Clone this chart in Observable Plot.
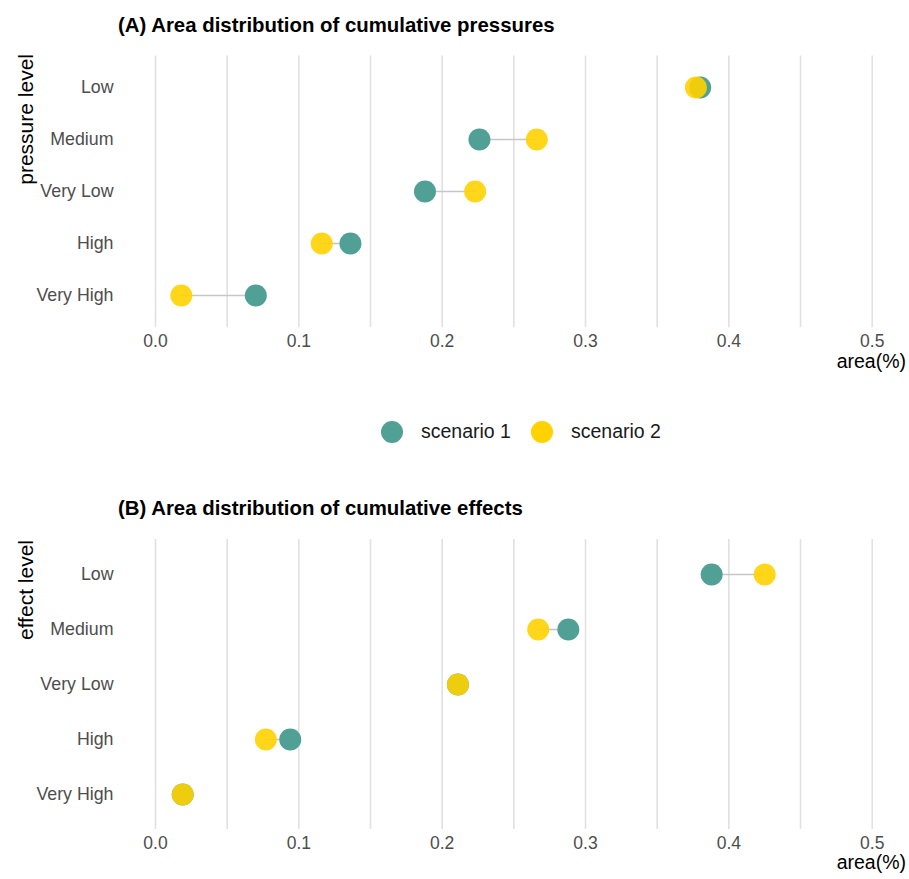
<!DOCTYPE html>
<html>
<head>
<meta charset="utf-8">
<script src="https://cdn.jsdelivr.net/npm/d3@7"></script>
<script src="https://cdn.jsdelivr.net/npm/@observablehq/plot@0.6"></script>
<style>
  html, body { margin: 0; padding: 0; background: #fff; }
  body { width: 909px; height: 879px; position: relative; overflow: hidden;
         font-family: "Liberation Sans", Arial, Helvetica, sans-serif; }
  .abs { position: absolute; white-space: nowrap; line-height: 1; }
  .title { font-size: 20.4px; font-weight: bold; color: #000; }
  .ytitle { font-size: 21px; color: #000; transform-origin: 0 0; transform: rotate(-90deg) translate(-100%, -50%); }
  .xtitle { font-size: 19.5px; color: #000; }
  .legend-item { position: absolute; display: flex; align-items: center; font-size: 19.5px; color: #1a1a1a; line-height: 1; }
  .legend-dot { width: 22px; height: 22px; border-radius: 50%; margin-right: 18px; }
  .plot { position: absolute; left: 0; }
</style>
</head>
<body>
<script>
// ---- data ----
const levels = ["Low", "Medium", "Very Low", "High", "Very High"];
const pressureScenario1 = [0.380, 0.226, 0.188, 0.136, 0.070];
const pressureScenario2 = [0.377, 0.266, 0.223, 0.116, 0.018];
const effectScenario1 = [0.388, 0.288, 0.211, 0.094, 0.019];
const effectScenario2 = [0.425, 0.267, 0.211, 0.077, 0.019];
const seriesNames = ["scenario 1", "scenario 2"];
const xTicks = [0.0, 0.1, 0.2, 0.3, 0.4, 0.5];
const gridTicks = [0.0, 0.05, 0.1, 0.15, 0.2, 0.25, 0.3, 0.35, 0.4, 0.45, 0.5];

const teal = "#50a096";
const yellow = "#ffd200";
const font = "'Liberation Sans', Arial, Helvetica, sans-serif";

function makeRows(s1, s2) {
  return levels.map((level, i) => ({ level, s1: s1[i], s2: s2[i] }));
}

function panel(rows, opts) {
  return Plot.plot({
    width: 909,
    height: opts.height,
    marginLeft: 155,
    marginRight: 37.3,
    marginTop: opts.marginTop,
    marginBottom: opts.marginBottom,
    style: { fontFamily: font, background: "transparent", overflow: "visible" },
    x: { domain: [0, 0.5] },
    y: { type: "point", domain: levels, padding: 0.6 },
    marks: [
      Plot.ruleX(gridTicks, { stroke: "#e1e1e1", strokeWidth: 1.6 }),
      Plot.axisX({ ticks: xTicks, tickSize: 0, tickPadding: 7, tickFormat: d3.format(".1f"),
                   fontSize: 17.5, color: "#4d4d4d", label: null }),
      Plot.axisY({ tickSize: 0, tickPadding: 42, fontSize: 17.8, color: "#4d4d4d", label: null }),
      Plot.ruleY(rows, { y: "level", x1: "s1", x2: "s2", stroke: "#c6c6c6", strokeWidth: 1.6 }),
      Plot.dot(rows, { x: "s1", y: "level", r: 11, fill: teal }),
      Plot.dot(rows, { x: "s2", y: "level", r: 11, fill: yellow, fillOpacity: 0.9 })
    ]
  });
}

function addText(cls, text, left, top, extra) {
  const d = document.createElement("div");
  d.className = "abs " + cls;
  d.textContent = text;
  d.style.left = left + "px";
  d.style.top = top + "px";
  if (extra) Object.assign(d.style, extra);
  document.body.appendChild(d);
  return d;
}

// Panel A
const plotA = panel(makeRows(pressureScenario1, pressureScenario2),
  { height: 380, marginTop: 55.6, marginBottom: 52.7 });
plotA.classList.add("plot");
plotA.style.top = "0px";
document.body.appendChild(plotA);

// Panel B
const plotB = panel(makeRows(effectScenario1, effectScenario2),
  { height: 409, marginTop: 69, marginBottom: 50 });
plotB.classList.add("plot");
plotB.style.top = "470px";
document.body.appendChild(plotB);

// Titles
addText("title", "(A) Area distribution of cumulative pressures", 118, 15);
addText("title", "(B) Area distribution of cumulative effects", 118, 498);

// Y axis titles (rotated, end of text at top)
addText("ytitle", "pressure level", 25, 54);
addText("ytitle", "effect level", 25, 540);

// X axis titles
addText("xtitle", "area(%)", 0, 352, { left: "auto", right: "3px" });
addText("xtitle", "area(%)", 0, 853, { left: "auto", right: "3px" });

// Legend
const legendColors = [teal, yellow];
const legendX = [381, 531];
seriesNames.forEach((name, i) => {
  const item = document.createElement("div");
  item.className = "legend-item";
  item.style.left = legendX[i] + "px";
  item.style.top = "421px";
  const dot = document.createElement("div");
  dot.className = "legend-dot";
  dot.style.background = legendColors[i];
  const label = document.createElement("span");
  label.textContent = name;
  item.appendChild(dot);
  item.appendChild(label);
  document.body.appendChild(item);
});
</script>
</body>
</html>
